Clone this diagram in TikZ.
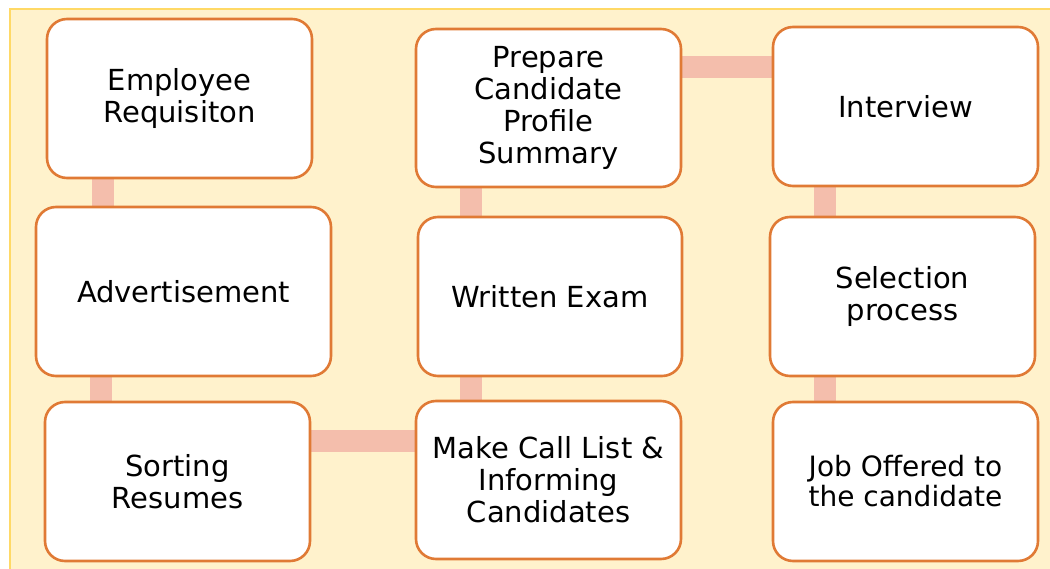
\documentclass[tikz,border=0pt]{standalone}
\usepackage{fontspec}
\setmainfont{DejaVu Sans}
\definecolor{bgfill}{HTML}{FFF2CC}
\definecolor{bgline}{HTML}{FFD966}
\definecolor{boxline}{HTML}{E07A35}
\definecolor{connc}{HTML}{F4BEAC}
\pgfdeclarelayer{back}
\pgfdeclarelayer{mid}
\pgfsetlayers{back,mid,main}
\tikzset{
  stepbox/.style={draw=boxline, line width=2.6pt, fill=white, rounded corners=20pt,
    align=center, inner sep=0pt, font=\fontsize{29}{32}\selectfont},
  conn/.style={draw=connc, line width=22pt}
}
\begin{document}
\begin{tikzpicture}[x=1pt,y=-1pt]
\useasboundingbox (0,0) rectangle (1050,569);
\begin{pgfonlayer}{back}
\fill[bgfill, draw=bgline, line width=2pt] (9.5,9.5) rectangle (1052,571);
\end{pgfonlayer}
\node[stepbox, minimum width=265pt, minimum height=159pt] (n1) at (179.5,98.5) {Employee\\Requisiton};
\node[stepbox, minimum width=295pt, minimum height=169pt] (n2) at (183.5,291.5) {Advertisement};
\node[stepbox, minimum width=265pt, minimum height=159pt] (n3) at (177.5,481.5) {Sorting\\Resumes};
\node[stepbox, minimum width=265pt, minimum height=158pt] (n4) at (548.5,480) {Make Call List \&\\Informing\\Candidates};
\node[stepbox, minimum width=264pt, minimum height=159pt] (n5) at (550,296.5) {Written Exam};
\node[stepbox, minimum width=265pt, minimum height=158pt] (n6) at (548.5,108) {Prepare\\Candidate\\Profile\\Summary};
\node[stepbox, minimum width=265pt, minimum height=159pt] (n7) at (905.5,106.5) {Interview};
\node[stepbox, minimum width=265pt, minimum height=159pt] (n8) at (902.5,296.5) {Selection\\process};
\node[stepbox, minimum width=265pt, minimum height=159pt, font=\fontsize{28}{30}\selectfont] (n9) at (905.5,481.5) {Job Offered to\\the candidate};
\coordinate (c1) at (103,0);
\coordinate (c2) at (101,0);
\coordinate (c3) at (0,441);
\coordinate (c4) at (471,0);
\coordinate (c6) at (0,67);
\coordinate (c7) at (825,0);
\begin{pgfonlayer}{mid}
\draw[conn] (n1.center -| c1) -- (n2.center -| c1);
\draw[conn] (n2.center -| c2) -- (n3.center -| c2);
\draw[conn] (n3.center |- c3) -- (n4.center |- c3);
\draw[conn] (n4.center -| c4) -- (n5.center -| c4);
\draw[conn] (n5.center -| c4) -- (n6.center -| c4);
\draw[conn] (n6.center |- c6) -- (n7.center |- c6);
\draw[conn] (n7.center -| c7) -- (n8.center -| c7);
\draw[conn] (n8.center -| c7) -- (n9.center -| c7);
\end{pgfonlayer}
\end{tikzpicture}
\end{document}
